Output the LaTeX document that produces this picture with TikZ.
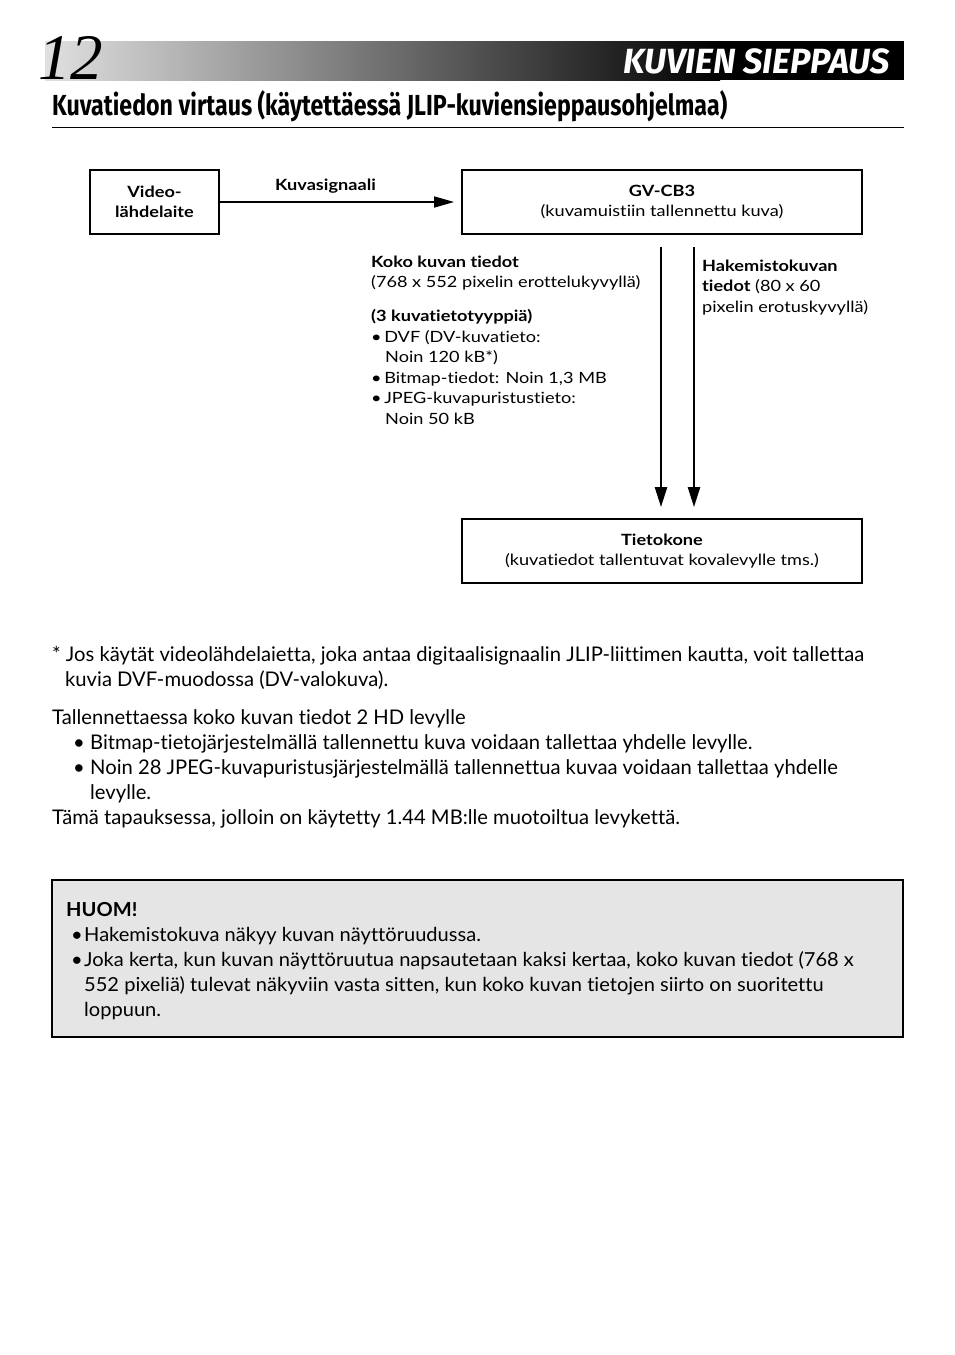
\documentclass[tikz,border=0pt]{standalone}
\usepackage{fontspec}
\setmainfont[Ligatures=NoCommon]{Lato}
\newfontfamily\condfont[FakeStretch=0.80]{Fira Sans}
\newfontfamily\chapfont[FakeStretch=0.98]{Fira Sans}
\newfontfamily\huomfont[FakeStretch=1.04,Ligatures=NoCommon]{Lato}
\newfontfamily\diafont[FakeStretch=1.17,Ligatures=NoCommon]{Lato}
\newfontfamily\numfont{Liberation Serif}
\usetikzlibrary{arrows.meta}
\begin{document}
\begin{tikzpicture}[x=1pt,y=-1pt,
  box/.style={draw, line width=1.8pt, inner sep=0pt, align=center,
    font=\diafont\fontsize{15.5}{20.5}\selectfont},
  dtext/.style={inner sep=0pt, align=left, font=\diafont\fontsize{15.5}{20.5}\selectfont},
  btext/.style={inner sep=0pt, anchor=base west, font=\fontsize{20.2}{25}\selectfont},
  htext/.style={inner sep=0pt, anchor=base west, font=\huomfont\fontsize{19.3}{25}\selectfont},
  harrow/.style={line width=1.6pt, -{Triangle[length=20pt,width=11pt]}},
  varrow/.style={line width=2.4pt, -{Triangle[length=20pt,width=12pt]}}]
\useasboundingbox (0,0) rectangle (954,1355);
% header
\shade[left color=black!12, right color=black] (45,41) rectangle (720,80);
\fill[black] (719,41) rectangle (904,80);
\node[inner sep=0pt, anchor=base west, font=\numfont\itshape\fontsize{65}{65}\selectfont] (num) at (38,79) {12};
\node[inner sep=0pt, anchor=base east, text=white, font=\chapfont\bfseries\itshape\fontsize{35}{35}\selectfont] (chap) at (890,73) {KUVIEN SIEPPAUS};
\node[inner sep=0pt, anchor=base west, font=\condfont\bfseries\fontsize{29}{29}\selectfont] (title) at (52,115) {Kuvatiedon virtaus (käytettäessä JLIP-kuviensieppausohjelmaa)};
\draw[line width=1pt] (52,127) -- (904,127);
% diagram
\node[box, minimum width=129pt, minimum height=64pt] (video) at (154.5,202) {\textbf{Video-}\\\textbf{lähdelaite}};
\node[box, minimum width=400pt, minimum height=64pt] (gv) at (662,202) {\textbf{GV-CB3}\\(kuvamuistiin tallennettu kuva)};
\node[box, minimum width=400pt, minimum height=64pt] (pc) at (662,551) {\textbf{Tietokone}\\(kuvatiedot tallentuvat kovalevylle tms.)};
\draw[harrow, shorten >=7pt] (video.east) -- (gv.west);
\node[dtext, anchor=base west] (sig) at (275,190) {\textbf{Kuvasignaali}};
\coordinate (a1s) at ([xshift=-1pt,yshift=-12pt]gv.south);
\coordinate (a1e) at ([xshift=-1pt,yshift=11pt]pc.north);
\coordinate (a2s) at ([xshift=32pt,yshift=-12pt]gv.south);
\coordinate (a2e) at ([xshift=32pt,yshift=11pt]pc.north);
\draw[varrow] (a1s) -- (a1e);
\draw[varrow] (a2s) -- (a2e);
\node[dtext, anchor=base west] (full) at (371,424) {\textbf{Koko kuvan tiedot}\\(768 x 552 pixelin erottelukyvyllä)\\[13.5pt]
\textbf{(3 kuvatietotyyppiä)}\\•\,DVF (DV-kuvatieto:\\\hspace*{14pt}Noin 120 kB*)\\•\,Bitmap-tiedot: Noin 1,3 MB\\•\,JPEG-kuvapuristustieto:\\\hspace*{14pt}Noin 50 kB};
\node[dtext, anchor=base west] (index) at (702,312) {\textbf{Hakemistokuvan}\\\textbf{tiedot} (80 x 60\\pixelin erotuskyvyllä)};
% body text
\node[btext] (l1) at (52,661) {* Jos käytät videolähdelaietta, joka antaa digitaalisignaalin JLIP-liittimen kautta, voit tallettaa};
\node[btext] (l2) at (65,686) {kuvia DVF-muodossa (DV-valokuva).};
\node[btext] (l3) at (52,724) {Tallennettaessa koko kuvan tiedot 2 HD levylle};
\node[btext] (b1) at (73,749) {•};
\node[btext] (l4) at (90,749) {Bitmap-tietojärjestelmällä tallennettu kuva voidaan tallettaa yhdelle levylle.};
\node[btext] (b2) at (73,774) {•};
\node[btext] (l5) at (90,774) {Noin 28 JPEG-kuvapuristusjärjestelmällä tallennettua kuvaa voidaan tallettaa yhdelle};
\node[btext] (l6) at (90,799) {levylle.};
\node[btext] (l7) at (52,824) {Tämä tapauksessa, jolloin on käytetty 1.44 MB:lle muotoiltua levykettä.};
% note box
\draw[line width=1.4pt, fill=black!10] (52,880) rectangle (903,1037);
\node[htext] (h0) at (66,916) {\bfseries HUOM!};
\node[htext] (hb1) at (71,941) {•};
\node[htext] (h1) at (84,941) {Hakemistokuva näkyy kuvan näyttöruudussa.};
\node[htext] (hb2) at (71,966) {•};
\node[htext] (h2) at (84,966) {Joka kerta, kun kuvan näyttöruutua napsautetaan kaksi kertaa, koko kuvan tiedot (768 x};
\node[htext] (h3) at (84,991) {552 pixeliä) tulevat näkyviin vasta sitten, kun koko kuvan tietojen siirto on suoritettu};
\node[htext] (h4) at (84,1016) {loppuun.};
\end{tikzpicture}
\end{document}
